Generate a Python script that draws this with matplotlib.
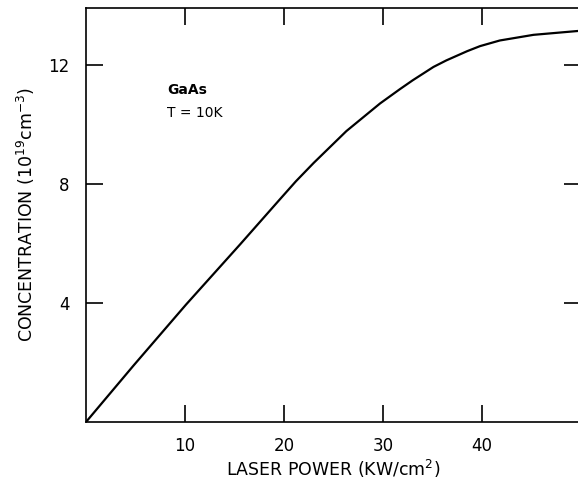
import numpy as np
import matplotlib.pyplot as plt

# curve
power = [0, 4.8, 10.1, 15.6, 19.6, 21.2, 23.0, 26.3, 29.7, 31.7, 33.0, 35.1,
         36.4, 38.5, 39.8, 41.8, 45.2, 49.7, 50.0]
conc = [0, 1.9, 3.95, 5.99, 7.5, 8.1, 8.72, 9.79, 10.72, 11.2, 11.5, 11.95,
        12.17, 12.48, 12.65, 12.84, 13.03, 13.16, 13.17]

xticks = [10, 20, 30, 40]
yticks = [4, 8, 12]

fig = plt.figure(figsize=(5.78, 4.84), dpi=100)
# axes runs a few pixels past the right edge, like the cropped scan
ax = fig.add_axes([86 / 578, 62 / 484, 495 / 578, 414.5 / 484])

ax.plot(power, conc, color='black', lw=1.6, solid_joinstyle='round')

ax.set_xlim(0, 50)
ax.set_ylim(0, 13.95)
ax.set_xticks(xticks)
ax.set_yticks(yticks)
ax.tick_params(direction='in', length=12, width=1.2, top=True, right=True,
               labelsize=12, colors='black')
ax.tick_params(axis='x', pad=11)
ax.tick_params(axis='y', pad=12)
for s in ax.spines.values():
    s.set_linewidth(1.2)

ax.set_xlabel('LASER POWER (KW/cm$^2$)', fontsize=12.5, labelpad=2)
ax.set_ylabel('CONCENTRATION (10$^{19}$cm$^{-3}$)', fontsize=12.5, labelpad=8)

ax.text(8.2, 11.04, 'GaAs', fontsize=10, fontweight='bold')
ax.text(8.2, 10.27, 'T = 10K', fontsize=10)

fig.savefig('out.png', dpi=100)
